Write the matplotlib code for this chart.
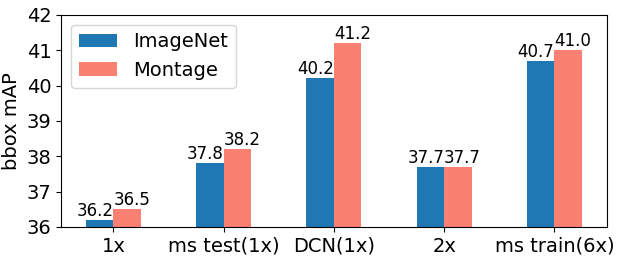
import matplotlib
matplotlib.use('agg')
import matplotlib.pyplot as plt
import numpy as np

categories = ['1x', 'ms test(1x)', 'DCN(1x)', '2x', 'ms train(6x)']
imagenet = [36.2, 37.8, 40.2, 37.7, 40.7]
montage = [36.5, 38.2, 41.2, 37.7, 41.0]

x = np.arange(len(categories))
w = 0.25

fig, ax = plt.subplots(figsize=(6.23, 2.6), dpi=100)
ax.bar(x - w/2, imagenet, w, color='#1f77b4', label='ImageNet')
ax.bar(x + w/2, montage, w, color='#fa8072', label='Montage')

# labels meet at the group centre: blue ones end there, red ones start there
for xi, v in zip(x, imagenet):
    ax.text(xi, v, '%.1f' % v, ha='right', va='bottom', fontsize=12)
for xi, v in zip(x, montage):
    ax.text(xi, v, '%.1f' % v, ha='left', va='bottom', fontsize=12)

ax.set_ylim(36, 42)
ax.set_yticks(range(36, 43))
ax.set_xticks(x)
ax.set_xticklabels(categories, fontsize=14)
ax.tick_params(axis='y', labelsize=14)
ax.set_ylabel('bbox mAP', fontsize=14)
ax.legend(loc='upper left', fontsize=14)

fig.subplots_adjust(left=0.098, right=0.974, top=0.943, bottom=0.127)
fig.savefig('out.png', dpi=100)
